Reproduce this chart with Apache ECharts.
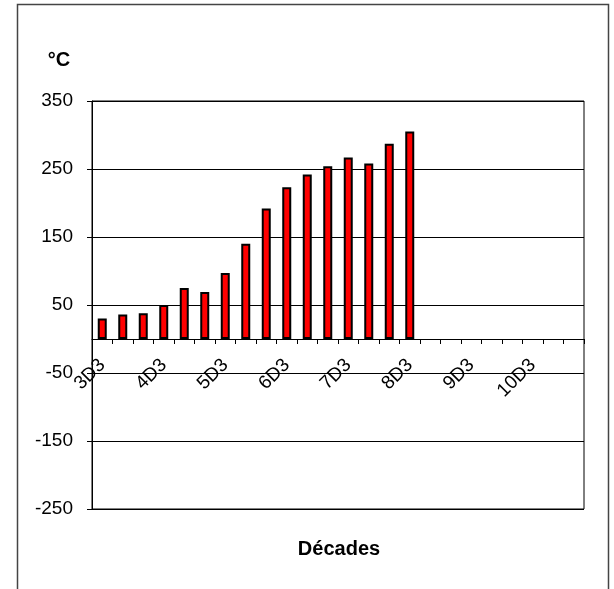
<!DOCTYPE html>
<html>
<head>
<meta charset="utf-8">
<script src="https://cdn.jsdelivr.net/npm/echarts@6/dist/echarts.min.js"></script>
<style>
  html, body { margin: 0; padding: 0; background: #fff; }
  #chart { width: 614px; height: 589px; }
</style>
</head>
<body>
<div id="chart"></div>
<script>
// Ten-day periods (décades) along the x axis
const decades = [
  '3D3', '4D1', '4D2', '4D3', '5D1', '5D2', '5D3', '6D1', '6D2', '6D3',
  '7D1', '7D2', '7D3', '8D1', '8D2', '8D3', '9D1', '9D2', '9D3',
  '10D1', '10D2', '10D3', '11D1', '11D2'
];

// Temperature sums in °C for each décade observed so far
const temperatures = [
  30, 36, 38, 50, 75, 69, 97, 140, 192, 223, 242, 254, 267, 258, 287, 305
];

// Value axis range and step
const yMin = -250;
const yMax = 350;
const yStep = 100;

const FONT = 'Liberation Sans, Arial, sans-serif';

const GRID_TOP = 101;
const GRID_BOTTOM = 80;
const CHART_H = 589;
const plotHeight = CHART_H - GRID_TOP - GRID_BOTTOM;
// Pixel distance from the bottom of the plot up to the zero line
const zeroLift = plotHeight * (0 - yMin) / (yMax - yMin);

const chart = echarts.init(document.getElementById('chart'), null, { renderer: 'canvas' });

chart.setOption({
  animation: false,
  backgroundColor: '#ffffff',
  grid: {
    left: 92,
    right: 30,
    top: GRID_TOP,
    bottom: GRID_BOTTOM,
    show: true,
    borderColor: '#000',
    borderWidth: 1,
    outerBoundsMode: 'none'
  },
  xAxis: {
    type: 'category',
    data: decades,
    boundaryGap: true,
    position: 'bottom',
    offset: -zeroLift,
    axisLine: { onZero: false, lineStyle: { color: '#000', width: 1 } },
    axisTick: { show: true, interval: 0, length: 5, inside: false, alignWithLabel: false, lineStyle: { color: '#000' } },
    axisLabel: {
      interval: 2,
      rotate: 45,
      margin: 23,
      padding: [6, 0, 0, 0],
      color: '#000',
      fontFamily: FONT,
      fontSize: 19
    },
    splitLine: { show: false }
  },
  yAxis: {
    type: 'value',
    min: yMin,
    max: yMax,
    interval: yStep,
    axisLine: { show: true, onZero: false, lineStyle: { color: '#000', width: 1 } },
    axisTick: { show: true, length: 5, lineStyle: { color: '#000' } },
    axisLabel: {
      margin: 19,
      color: '#000',
      fontFamily: FONT,
      fontSize: 19
    },
    splitLine: { show: true, lineStyle: { color: '#000', width: 1 } }
  },
  series: [{
    type: 'bar',
    data: temperatures,
    barWidth: 9,
    itemStyle: {
      color: '#ff0000',
      borderColor: '#000',
      borderWidth: 2
    }
  }],
  graphic: [
    {
      type: 'rect',
      silent: true,
      shape: { x: 17.5, y: 4.5, width: 591, height: 620 },
      style: { fill: 'none', stroke: '#444', lineWidth: 1.5 }
    },
    {
      type: 'text',
      x: 59,
      y: 60,
      style: {
        text: '°C',
        font: 'bold 20px ' + FONT,
        fill: '#000',
        textAlign: 'center',
        textVerticalAlign: 'middle'
      }
    },
    {
      type: 'text',
      x: 339,
      y: 549,
      style: {
        text: 'Décades',
        font: 'bold 20px ' + FONT,
        fill: '#000',
        textAlign: 'center',
        textVerticalAlign: 'middle'
      }
    }
  ]
});
</script>
</body>
</html>
